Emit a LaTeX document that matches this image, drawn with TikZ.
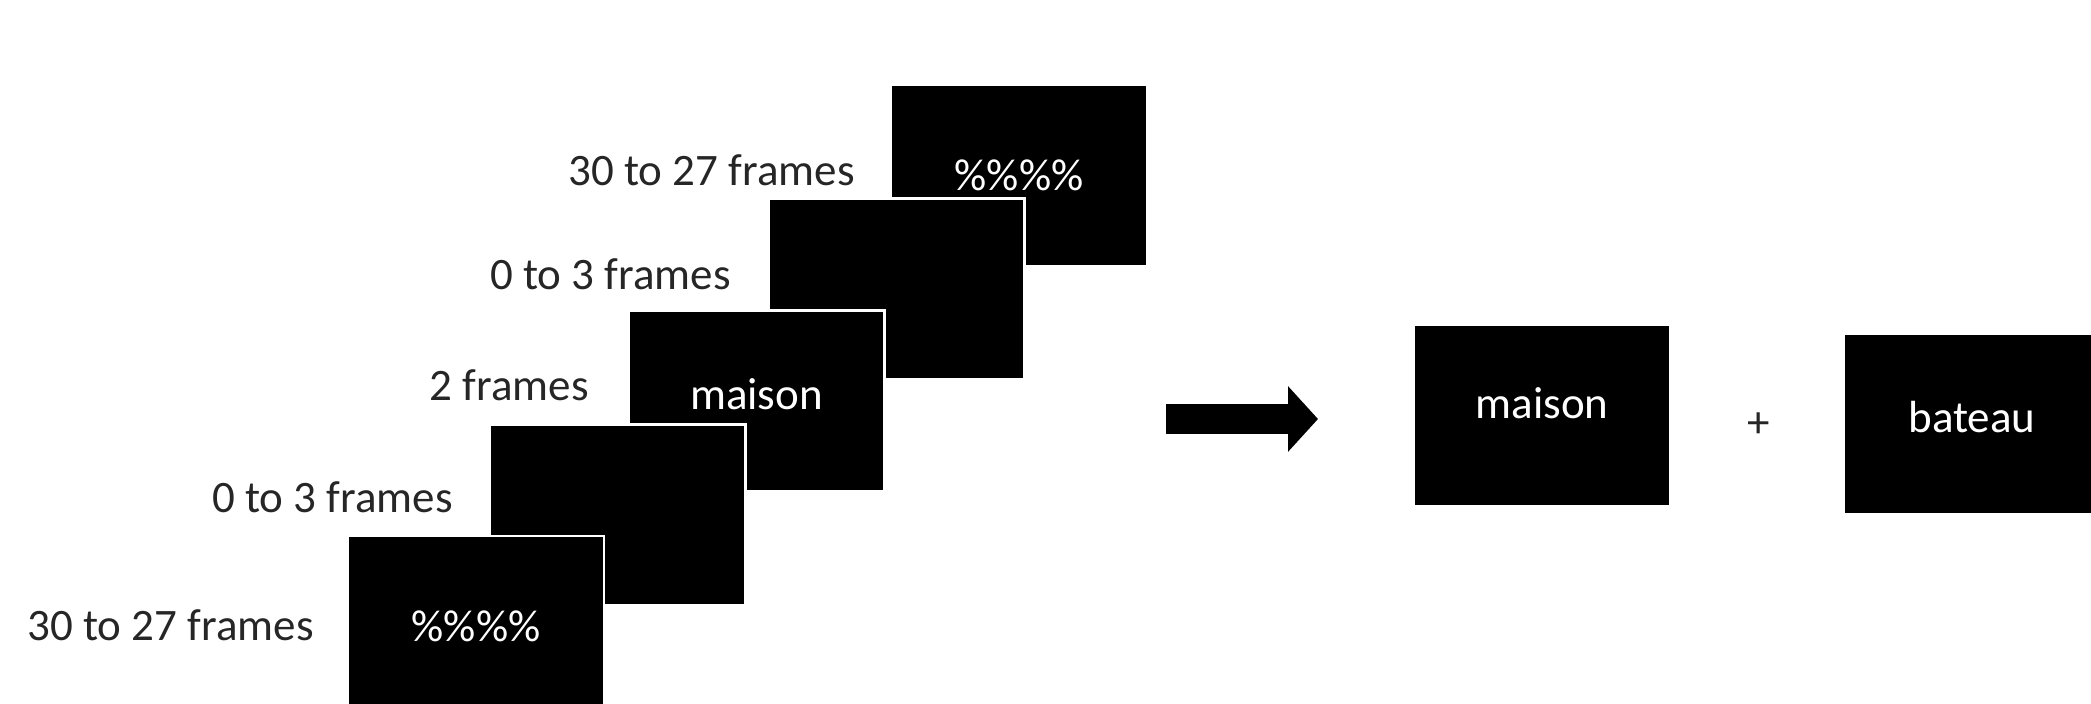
\documentclass[tikz,border=0pt]{standalone}
\usepackage{fontspec}
\setmainfont{Carlito}
\usetikzlibrary{arrows.meta}
\begin{document}
\begin{tikzpicture}[x=0.5pt, y=-0.5pt,
  frame/.style={rectangle, fill=black, draw=white, line width=1.2pt, minimum width=128pt, minimum height=90.5pt, inner sep=0pt, text=white, font=\fontsize{22.5}{27}\selectfont},
  lbl/.style={anchor=east, inner sep=0pt, text=black!85, font=\fontsize{22.5}{27}\selectfont}]
\useasboundingbox (0,0) rectangle (2091,704);
\node[frame] (fid5) at (1019,175.5){\%\%\%\%};
\node[frame] (fid4) at (896.5,289){};
\node[frame, text depth=6.7pt] (fid3) at (756.5,401){maison};
\node[frame] (fid2) at (617.5,515){};
\node[frame] (fid1) at (476,626.5){\%\%\%\%};
\node[lbl] (lid5) at (855,170){30 to 27 frames};
\node[lbl] (lid4) at (731,274){0 to 3 frames};
\node[lbl] (lid3) at (589,385){2 frames};
\node[lbl] (lid2) at (453,497){0 to 3 frames};
\node[lbl] (lid1) at (314,625){30 to 27 frames};
\coordinate (ar0) at (1166,419);
\coordinate (ar1) at (1318,419);
\draw[line width=15pt, -{Triangle[length=15pt, width=32pt]}](ar0) -- (ar1);
\node[frame, text depth=12pt] (tid0) at (1542,415.5){maison};
\node[lbl, anchor=center] (pid0) at (1759,425){+};
\node[frame, text depth=6.7pt] (tid1) at (1972,424){bateau};
\end{tikzpicture}
\end{document}
